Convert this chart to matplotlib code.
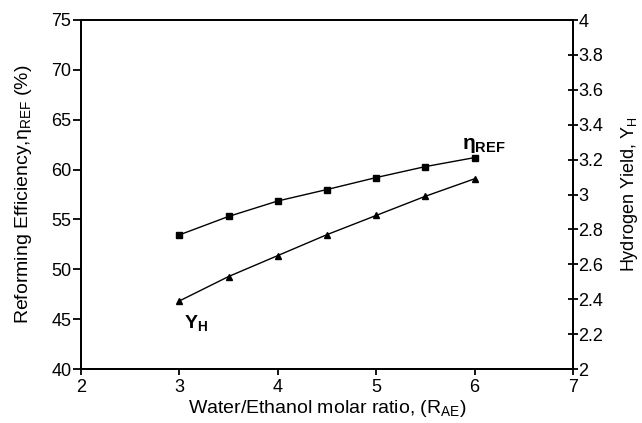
import matplotlib
matplotlib.use("Agg")
import matplotlib.pyplot as plt

plt.rcParams['font.family'] = ['Liberation Sans', 'DejaVu Sans']
plt.rcParams['mathtext.fontset'] = 'custom'
plt.rcParams['mathtext.rm'] = 'Liberation Sans'
plt.rcParams['mathtext.it'] = 'Liberation Sans'
plt.rcParams['mathtext.bf'] = 'Liberation Sans:bold'

# Data
ratio = [3, 3.5, 4, 4.5, 5, 5.5, 6]
eta_ref = [53.45, 55.3, 56.85, 58.0, 59.2, 60.3, 61.2]
y_h = [2.39, 2.53, 2.65, 2.77, 2.88, 2.99, 3.09]

x_ticks = [2, 3, 4, 5, 6, 7]
left_ticks = [40, 45, 50, 55, 60, 65, 70, 75]
right_ticks = [2, 2.2, 2.4, 2.6, 2.8, 3, 3.2, 3.4, 3.6, 3.8, 4]
right_labels = ['2', '2.2', '2.4', '2.6', '2.8', '3', '3.2', '3.4', '3.6', '3.8', '4']

fig = plt.figure(figsize=(6.42, 4.23), dpi=100)
ax = fig.add_axes([81/642, 1 - 369/423, (573-81)/642, (369-20)/423])
ax2 = ax.twinx()

ax.plot(ratio, eta_ref, color='black', lw=1, marker='s', ms=4)
ax2.plot(ratio, y_h, color='black', lw=1, marker='^', ms=5)

ax.set_xlim(2, 7)
ax.set_ylim(40, 75)
ax2.set_ylim(2, 4)
ax.set_xticks(x_ticks)
ax.set_yticks(left_ticks)
ax2.set_yticks(right_ticks)
ax2.set_yticklabels(right_labels)

for a in (ax, ax2):
    for s in a.spines.values():
        s.set_linewidth(1.3)
ax.tick_params(axis='x', labelsize=13, width=1.3, length=4, direction='out', pad=3.5)
ax.tick_params(axis='y', labelsize=13, width=1.3, length=6, direction='out', pad=1)
ax2.tick_params(axis='y', labelsize=13, width=1.3, length=7, direction='inout', pad=0.5)

ax.set_xlabel(r'Water/Ethanol molar ratio, (R$_{\mathregular{AE}}$)', fontsize=14, labelpad=1)
ax.set_ylabel(r'Reforming Efficiency,$\mathregular{\eta}_{\mathregular{REF}}$ (%)', fontsize=14, labelpad=12)
ax2.set_ylabel(r'Hydrogen Yield, Y$_{\mathregular{H}}$', fontsize=13, labelpad=11)

# curve labels
ax.text(5.87, 62.1, r'$\mathbf{\eta}_{\mathbf{REF}}$', fontsize=15, fontweight='bold')
ax.text(3.05, 44.1, r'$\mathbf{Y}_{\mathbf{H}}$', fontsize=14, fontweight='bold')

fig.savefig('out.png', dpi=100)
